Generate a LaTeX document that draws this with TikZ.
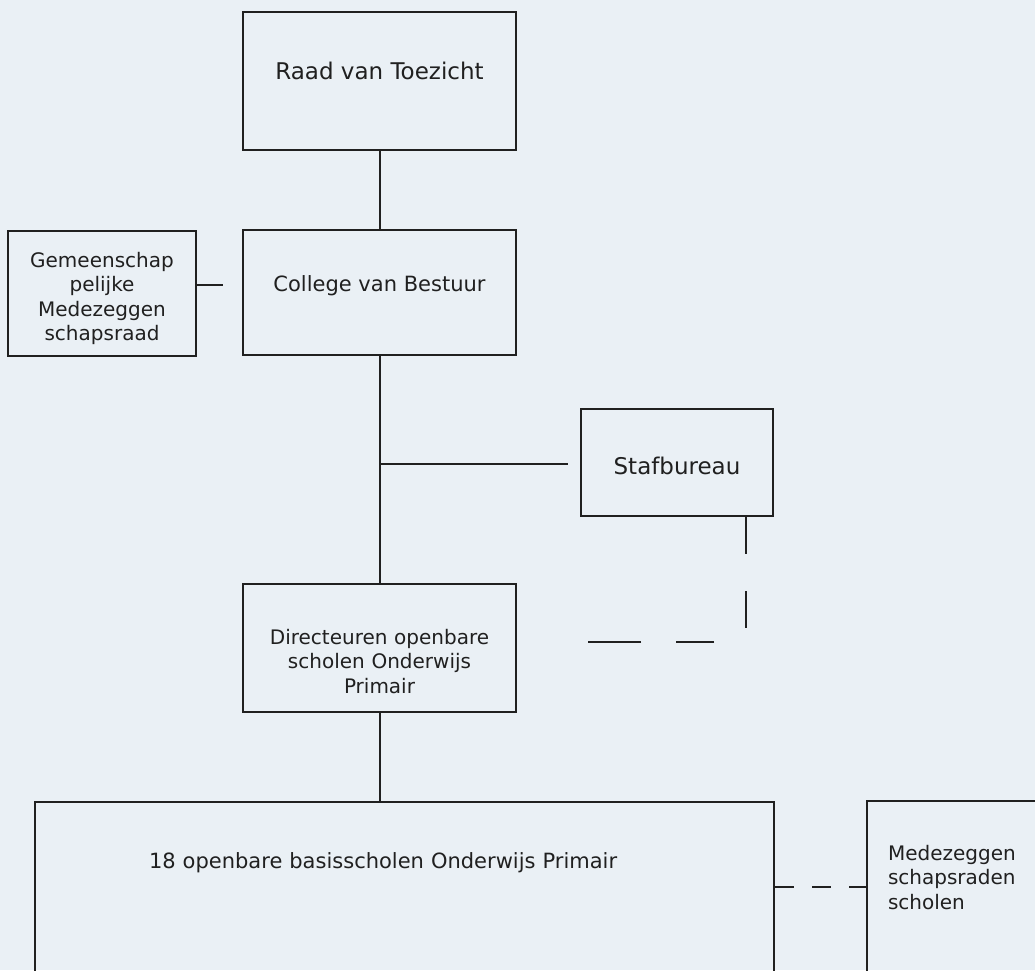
\documentclass[tikz,border=0pt]{standalone}
\usepackage{fontspec}
\setmainfont{DejaVu Sans}
\usepackage{tikz}
\usetikzlibrary{positioning}
\definecolor{paper}{RGB}{234,240,245}
\definecolor{ink}{RGB}{32,32,32}
\tikzset{
  box/.style={draw=ink, rectangle, line width=2pt, inner xsep=0pt, inner ysep=0pt,
    text=ink, align=center, font=\fontsize{20}{24.5}\selectfont},
  midtext/.style={font=\fontsize{21}{25}\selectfont},
  bigtext/.style={font=\fontsize{23}{27}\selectfont},
  line/.style={draw=ink, line width=2pt},
}

\begin{document}
\begin{tikzpicture}[x=1pt,y=-1pt]
        \useasboundingbox (0,0) rectangle (1035,970);
        \fill[paper] (0,0) rectangle (1035,970);
        \clip (0,0) rectangle (1035,970);
        % boxes
        \node[box,bigtext,anchor=north,minimum width=273pt,text height=67pt,text depth=71pt] (raad) at (379.5,11) {Raad van Toezicht};
        \node[box,midtext,anchor=north,minimum width=273pt,text height=61pt,text depth=64pt] (college) at (379.5,229) {College van Bestuur};
        \node[box,anchor=north,text width=188pt,text height=36pt,text depth=89pt] (gemeen) at (102,230) {Gemeenschap\\pelijke\\Medezeggen\\schapsraad};
        \node[box,bigtext,anchor=north,minimum width=192pt,text height=65pt,text depth=42pt] (staf) at (677,408) {Stafbureau};
        \node[box,anchor=north,text width=273pt,text height=60pt,text depth=68pt] (direct) at (379.5,583) {Directeuren openbare\\scholen Onderwijs\\Primair};
        \node[box,midtext,anchor=north west,align=left,inner xsep=114pt,text width=511pt,text height=66pt,text depth=186pt] (scholen) at (34,801) {18 openbare basisscholen Onderwijs Primair};
        \node[box,anchor=north west,align=left,inner xsep=21pt,text width=200pt,text height=59pt,text depth=113pt] (mede) at (866,800) {Medezeggen\\schapsraden\\scholen};
        % connectors
        \coordinate (gemend) at (223,285);
        \coordinate (stafend) at (568,464);
        \coordinate (stafhoek) at (746,642);
        \draw[line] (raad) -- (college);
        \draw[line] (gemend -| gemeen.east) -- (gemend);
        \draw[line] (college) -- (direct);
        \draw[line] (stafend -| college.south) -- (stafend);
        \draw[line,dash pattern=on 37pt off 37pt on 37pt off 46pt on 38pt off 35pt on 53pt off 200pt] (stafhoek |- staf.south) -- (stafhoek) -- (stafhoek -| direct.east);
        \draw[line] (direct) -- (direct.south |- scholen.north);
        \draw[line,dash pattern=on 19pt off 18pt] (mede.west -| scholen.east) -- (mede.west);
    \end{tikzpicture}
\end{document}
